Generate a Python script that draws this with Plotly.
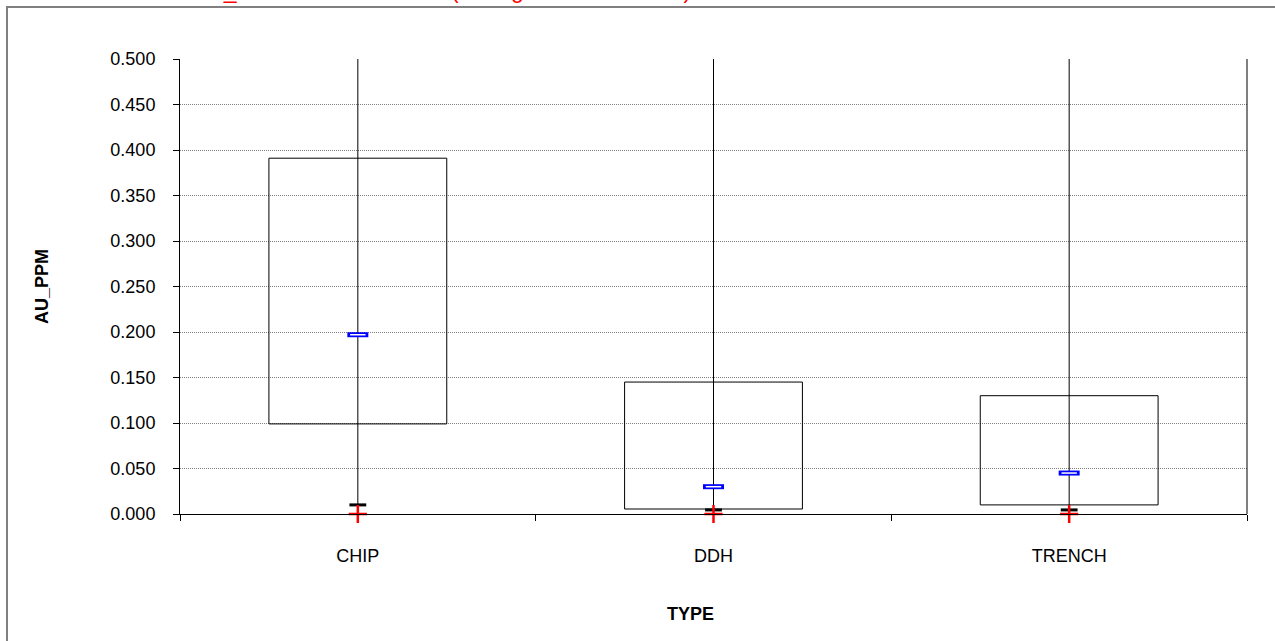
import plotly.graph_objects as go

# ---- data ----
categories = ["CHIP", "DDH", "TRENCH"]
q_low = [0.099, 0.0055, 0.010]      # box bottom
q_high = [0.391, 0.145, 0.130]      # box top
mean_vals = [0.197, 0.030, 0.045]   # blue marker
min_vals = [0.010, 0.0045, 0.0045]  # black dash
zero_vals = [0.0, 0.0, 0.0]         # red cross
max_vals = [1.0, 1.0, 1.0]          # whisker tops (off-scale)
y_ticks = [0.0, 0.05, 0.10, 0.15, 0.20, 0.25, 0.30, 0.35, 0.40, 0.45, 0.50]

FONT = "Liberation Sans, Arial, sans-serif"
xs = list(range(len(categories)))
half = 0.25

# plot-area geometry in page pixels (body margin removed below)
W, H = 1275, 641
PL, PR, PT, PB = 180, 1247, 59, 514
L, T, R, B = PL, PT, W - PR, H - PB
pw, ph = PR - PL, PB - PT

def px_x(p):
    return (p - PL) / pw

def px_y(p):
    return (PB - p) / ph

fig = go.Figure()

# whiskers
wx, wy = [], []
for c, lo, hi in zip(xs, min_vals, max_vals):
    wx += [c, c, None]
    wy += [lo, hi, None]
fig.add_trace(go.Scatter(x=wx, y=wy, mode="lines", line=dict(color="black", width=1),
                         hoverinfo="skip", showlegend=False))

# boxes
bx, by = [], []
for c, lo, hi in zip(xs, q_low, q_high):
    bx += [c - half, c + half, c + half, c - half, c - half, None]
    by += [lo, lo, hi, hi, lo, None]
fig.add_trace(go.Scatter(x=bx, y=by, mode="lines", line=dict(color="black", width=1),
                         hoverinfo="skip", showlegend=False))

# min dash
fig.add_trace(go.Scatter(x=xs, y=min_vals, mode="markers", cliponaxis=False,
                         marker=dict(symbol="line-ew", size=12, line=dict(color="black", width=3)),
                         showlegend=False))
# red cross
fig.add_trace(go.Scatter(x=xs, y=zero_vals, mode="markers", cliponaxis=False,
                         marker=dict(symbol="cross-thin", size=13, line=dict(color="red", width=2.5)),
                         showlegend=False))
# mean markers (blue outlined bar)
fig.add_trace(go.Scatter(x=xs, y=mean_vals, mode="markers", cliponaxis=False,
                         marker=dict(symbol="line-ew", size=15, line=dict(color="blue", width=5)),
                         showlegend=False))
fig.add_trace(go.Scatter(x=xs, y=mean_vals, mode="markers", cliponaxis=False,
                         marker=dict(symbol="line-ew", size=11, line=dict(color="white", width=1.5)),
                         showlegend=False, xaxis="x2"))

boundaries = [-0.5] + [c + 0.5 for c in xs]

fig.update_layout(
    width=W, height=H,
    margin=dict(l=L, r=R, t=T, b=B, autoexpand=False),
    paper_bgcolor="white", plot_bgcolor="white",
    font=dict(family=FONT, size=18, color="black"),
    xaxis=dict(range=[-0.5, len(categories) - 0.5], tickvals=boundaries, showticklabels=False,
               ticks="outside", ticklen=6, tickcolor="black", showline=True, linecolor="black",
               linewidth=1, showgrid=False, zeroline=False),
    xaxis2=dict(range=[-0.5, len(categories) - 0.5], overlaying="x", side="bottom",
                tickvals=xs, ticktext=categories, ticks="", showgrid=False, zeroline=False,
                showline=False, ticklabelstandoff=29, tickfont=dict(size=18)),
    yaxis=dict(range=[0, 0.5], tickvals=y_ticks, tickformat=".3f", ticks="outside", ticklen=6,
               tickcolor="black", showline=True, linecolor="black", linewidth=1,
               showgrid=True, gridcolor="#7f7f7f", griddash="1px,1px", gridwidth=1,
               zeroline=False, ticklabelstandoff=14, tickfont=dict(size=18)),
    shapes=[
        # right border of plot area
        dict(type="line", xref="paper", yref="paper", x0=1, x1=1, y0=0, y1=1,
             line=dict(color="black", width=1)),
        # outer chart frame
        dict(type="rect", xref="paper", yref="paper",
             x0=px_x(7), x1=px_x(1300), y0=px_y(670), y1=px_y(7),
             line=dict(color="#808080", width=2), layer="below"),
    ],
    annotations=[
        dict(text="<b>AU_PPM</b>", xref="paper", yref="paper", x=px_x(42), y=px_y(287),
             xanchor="center", yanchor="middle",
             textangle=-90, showarrow=False, font=dict(size=18)),
        dict(text="<b>TYPE</b>", xref="paper", yref="paper", x=px_x(690), y=px_y(614),
             xanchor="center", yanchor="middle", showarrow=False, font=dict(size=18)),
        dict(text="Data Intervals   AU_PPM Stats and Total (Histogram Percentiles)",
             xref="paper", yref="paper", x=px_x(30), y=px_y(5), xanchor="left",
             yanchor="bottom", showarrow=False, font=dict(size=23, color="red")),
    ],
    showlegend=False,
)

fig.write_html("out.html", config={"displayModeBar": False},
               post_script="document.body.style.margin='0';document.body.style.overflow='hidden';")
